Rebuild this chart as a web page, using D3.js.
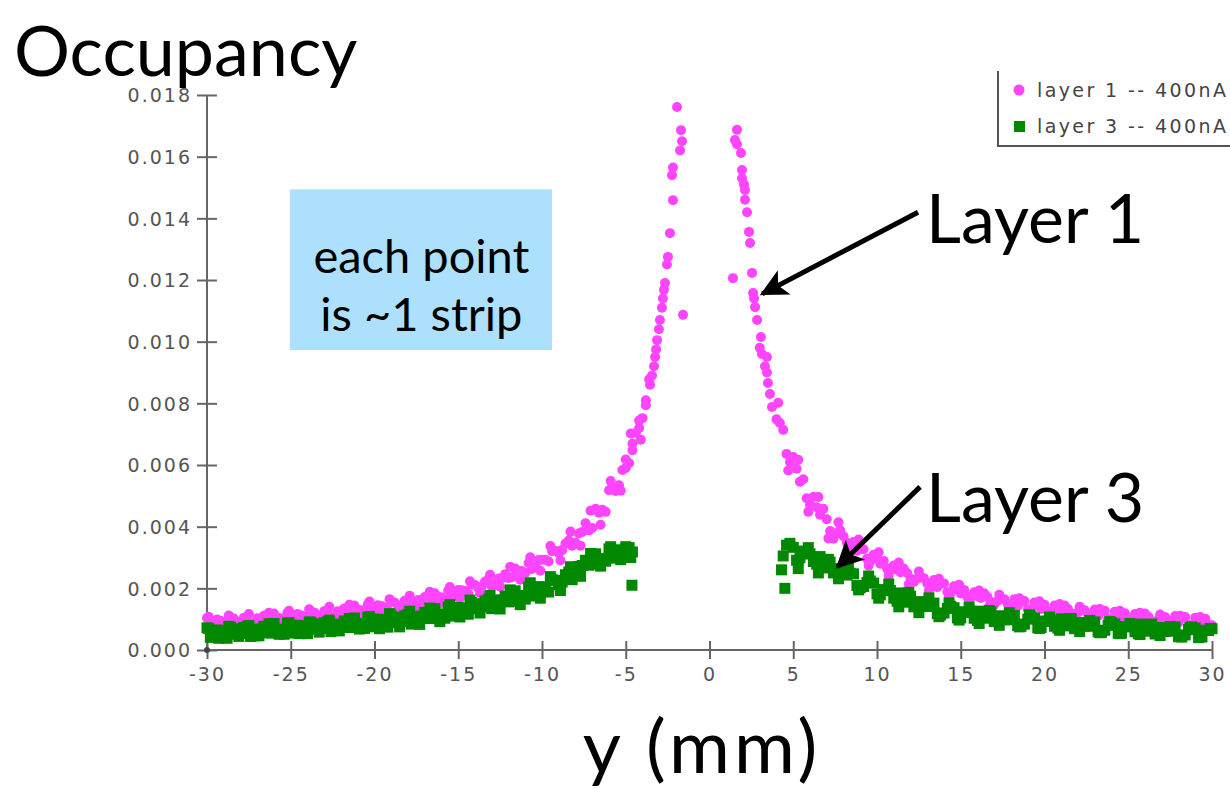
<!DOCTYPE html>
<html>
<head>
<meta charset="utf-8">
<script src="https://cdn.jsdelivr.net/npm/d3@7"></script>
<style>
    body { margin: 0; background: #fff; }
    svg { display: block; }
    .axis path, .axis line { stroke: #666; stroke-width: 2; }
    .axis text { font-family: "DejaVu Sans", Verdana, sans-serif; font-size: 19px; fill: #555; letter-spacing: 2px; }
    .big { font-family: "Gill Sans", Lato, sans-serif; fill: #000; }
    .legend text { font-family: "DejaVu Sans", Verdana, sans-serif; font-size: 19px; fill: #444; letter-spacing: 2.4px; }
</style>
</head>
<body>
<div id="chart"></div>
<script>

// tick values
const xTicks = [-30, -25, -20, -15, -10, -5, 0, 5, 10, 15, 20, 25, 30];
const yTicks = [0, 0.002, 0.004, 0.006, 0.008, 0.010, 0.012, 0.014, 0.016, 0.018];

// layer 1 (pink) -- [y (mm), occupancy], one row per strip
const layer1Left = [
    [-30.0,.00104],[-29.6,.00082],[-29.2,.00095],[-28.8,.00078],[-28.4,.00102],[-28.0,.00091],
    [-27.6,.00108],[-27.2,.00086],[-26.8,.00101],[-26.4,.00094],[-26.0,.00118],[-25.6,.00103],
    [-25.2,.00121],[-24.8,.00100],[-24.4,.00113],[-24.0,.00097],[-23.6,.00122],[-23.2,.00112],
    [-22.8,.00129],[-22.4,.00108],[-22.0,.00124],[-21.6,.00119],[-21.2,.00144],[-20.8,.00129],
    [-20.4,.00148],[-20.0,.00128],[-19.6,.00143],[-19.2,.00128],[-18.8,.00154],[-18.4,.00145],
    [-18.0,.00163],[-17.6,.00144],[-17.2,.00161],[-16.8,.00157],[-16.4,.00184],[-16.0,.00171],
    [-15.6,.00193],[-15.2,.00176],[-14.8,.00194],[-14.4,.00182],[-14.0,.00211],[-13.6,.00206],
    [-13.2,.00228],[-12.8,.00212],[-12.4,.00233],[-12.0,.00233],[-11.6,.00264],[-11.2,.00256],
    [-10.8,.00282],[-10.4,.00270],[-10.0,.00293],[-9.6,.00287],[-9.2,.00322],[-8.8,.00324],
    [-8.4,.00355],[-8.0,.00348],[-7.6,.00383],[-7.2,.00388],[-6.8,.00458],[-6.4,.00455],
    [-6.0,.00518],[-5.6,.00516],[-5.2,.00584],[-5.0,.00590],[-4.8,.00606],[-4.6,.00670],
    [-4.4,.00704],[-4.2,.00720],[-4.0,.00752],[-3.8,.00810],[-3.6,.00878],[-3.55,.00860],
    [-3.43,.00890],[-3.31,.00920],[-3.25,.00950],[-3.19,.00975],[-3.13,.01005],[-3.02,.01040],
    [-2.96,.01070],[-2.84,.01110],[-2.78,.01140],[-2.72,.01168],[-2.66,.01190],[-2.54,.01250],
    [-2.48,.01275],[-2.36,.01352],[-2.18,.01459],[-2.24,.01540],[-2.18,.01565],[-1.76,.01620],
    [-1.64,.01650],[-1.70,.01686],[-1.94,.01761],[-1.58,.01087]
];

const layer1LeftInner = [
    [-29.8,.00080],[-29.4,.00099],[-29.0,.00089],[-28.6,.00106],[-28.2,.00089],[-27.8,.00105],
    [-27.4,.00084],[-27.0,.00103],[-26.6,.00111],[-26.2,.00094],[-25.8,.00105],[-25.4,.00093],
    [-25.0,.00097],[-24.6,.00117],[-24.2,.00108],[-23.8,.00125],[-23.4,.00109],[-23.0,.00126],
    [-22.6,.00105],[-22.2,.00126],[-21.8,.00135],[-21.4,.00119],[-21.0,.00131],[-20.6,.00120],
    [-20.2,.00125],[-19.8,.00145],[-19.4,.00138],[-19.0,.00156],[-18.6,.00142],[-18.2,.00160],
    [-17.8,.00140],[-17.4,.00162],[-17.0,.00172],[-16.6,.00158],[-16.2,.00172],[-15.8,.00163],
    [-15.4,.00171],[-15.0,.00195],[-14.6,.00191],[-14.2,.00212],[-13.8,.00200],[-13.4,.00222],
    [-13.0,.00206],[-12.6,.00232],[-12.2,.00246],[-11.8,.00236],[-11.4,.00255],[-11.0,.00250],
    [-10.6,.00263],[-10.2,.00292],[-9.8,.00293],[-9.4,.00320],[-9.0,.00314],[-8.6,.00345],
    [-8.2,.00338],[-7.8,.00378],[-7.4,.00411],[-7.0,.00396],[-6.6,.00445],[-6.2,.00448],
    [-5.8,.00526],[-5.4,.00534],[-5.0,.00618],[-4.6,.00648],[-4.2,.00744],[-3.8,.00794]
];

const layer1LeftEdge = [
    [-29.9,.00108],[-29.3,.00075],[-28.7,.00112],[-28.1,.00079],[-27.5,.00117],[-26.9,.00083],
    [-26.3,.00121],[-25.7,.00087],[-25.1,.00127],[-24.5,.00093],[-23.9,.00132],[-23.3,.00099],
    [-22.7,.00140],[-22.1,.00104],[-21.5,.00147],[-20.9,.00113],[-20.3,.00157],[-19.7,.00120],
    [-19.1,.00165],[-18.5,.00128],[-17.9,.00176],[-17.3,.00139],[-16.7,.00189],[-16.1,.00151],
    [-15.5,.00204],[-14.9,.00168],[-14.3,.00223],[-13.7,.00185],[-13.1,.00244],[-12.5,.00205],
    [-11.9,.00270],[-11.3,.00228],[-10.7,.00301],[-10.1,.00257],[-9.5,.00337],[-8.9,.00290],
    [-8.3,.00384],[-7.7,.00338],[-7.1,.00452],[-6.5,.00406],[-5.9,.00548],[-5.3,.00517],
    [-4.7,.00702],[-4.1,.00682]
];

const layer1Right = [
    [1.64,.01687],[1.52,.01654],[1.64,.01640],[1.88,.01612],[1.94,.01557],[1.94,.01530],
    [2.06,.01510],[2.12,.01492],[2.12,.01460],[2.24,.01420],[2.36,.01356],[2.42,.01320],
    [2.54,.01223],[1.40,.01206],[2.60,.01158],[2.66,.01140],[2.72,.01112],[2.84,.01070],
    [3.07,.01015],[3.00,.00980],[3.13,.00960],[3.43,.00950],[3.31,.00920],[3.43,.00900],
    [3.49,.00866],[3.61,.00830],[3.73,.00788],
    [4.0,.00748],[4.4,.00714],[4.8,.00610],[5.2,.00588],[5.6,.00554],[6.0,.00470],
    [6.4,.00463],[6.8,.00458],[7.2,.00386],[7.6,.00379],[8.0,.00369],[8.4,.00330],
    [8.8,.00322],[9.2,.00327],[9.6,.00289],[10.0,.00295],[10.4,.00289],[10.8,.00258],
    [11.2,.00260],[11.6,.00264],[12.0,.00232],[12.4,.00231],[12.8,.00233],[13.2,.00203],
    [13.6,.00204],[14.0,.00216],[14.4,.00184],[14.8,.00196],[15.2,.00195],[15.6,.00169],
    [16.0,.00175],[16.4,.00184],[16.8,.00156],[17.2,.00159],[17.6,.00165],[18.0,.00138],
    [18.4,.00143],[18.8,.00159],[19.2,.00130],[19.6,.00145],[20.0,.00147],[20.4,.00124],
    [20.8,.00133],[21.2,.00144],[21.6,.00118],[22.0,.00122],[22.4,.00129],[22.8,.00104],
    [23.2,.00110],[23.6,.00127],[24.0,.00099],[24.4,.00115],[24.8,.00119],[25.2,.00097],
    [25.6,.00107],[26.0,.00118],[26.4,.00093],[26.8,.00099],[27.2,.00107],[27.6,.00083],
    [28.0,.00089],[28.4,.00107],[28.8,.00080],[29.2,.00097],[29.6,.00101],[30.0,.00080]
];

const layer1RightInner = [
    [4.2,.00736],[4.6,.00636],[5.0,.00626],[5.4,.00546],[5.8,.00492],[6.2,.00496],
    [6.6,.00439],[7.0,.00424],[7.4,.00361],[7.8,.00388],[8.2,.00348],[8.6,.00350],
    [9.0,.00328],[9.4,.00296],[9.8,.00309],[10.2,.00280],[10.6,.00264],[11.0,.00274],
    [11.4,.00252],[11.8,.00250],[12.2,.00221],[12.6,.00237],[13.0,.00216],[13.4,.00227],
    [13.8,.00214],[14.2,.00188],[14.6,.00207],[15.0,.00183],[15.4,.00172],[15.8,.00187],
    [16.2,.00169],[16.6,.00172],[17.0,.00147],[17.4,.00167],[17.8,.00150],[18.2,.00165],
    [18.6,.00156],[19.0,.00132],[19.4,.00154],[19.8,.00133],[20.2,.00126],[20.6,.00144],
    [21.0,.00128],[21.4,.00133],[21.8,.00110],[22.2,.00131],[22.6,.00115],[23.0,.00131],
    [23.4,.00123],[23.8,.00101],[24.2,.00124],[24.6,.00105],[25.0,.00098],[25.4,.00117],
    [25.8,.00102],[26.2,.00108],[26.6,.00086],[27.0,.00108],[27.4,.00094],[27.8,.00110],
    [28.2,.00103],[28.6,.00082],[29.0,.00105],[29.4,.00087],[29.8,.00081]
];

const layer1RightEdge = [
    [4.1,.00802],[4.7,.00582],[5.3,.00617],[5.9,.00448],[6.5,.00496],[7.1,.00362],
    [7.7,.00414],[8.3,.00312],[8.9,.00358],[9.5,.00273],[10.1,.00317],[10.7,.00241],
    [11.3,.00284],[11.9,.00214],[12.5,.00255],[13.1,.00192],[13.7,.00231],[14.3,.00173],
    [14.9,.00212],[15.5,.00156],[16.1,.00193],[16.7,.00141],[17.3,.00179],[17.9,.00130],
    [18.5,.00168],[19.1,.00121],[19.7,.00158],[20.3,.00113],[20.9,.00149],[21.5,.00105],
    [22.1,.00140],[22.7,.00098],[23.3,.00133],[23.9,.00092],[24.5,.00127],[25.1,.00087],
    [25.7,.00121],[26.3,.00083],[26.9,.00115],[27.5,.00077],[28.1,.00111],[28.7,.00074],
    [29.3,.00107],[29.9,.00072]
];

// layer 3 (green)
const layer3Left = [
    [-30.0,.00072],[-29.6,.00043],[-29.2,.00061],[-28.8,.00038],[-28.4,.00069],[-28.0,.00054],
    [-27.6,.00076],[-27.2,.00046],[-26.8,.00066],[-26.4,.00056],[-26.0,.00086],[-25.6,.00064],
    [-25.2,.00087],[-24.8,.00058],[-24.4,.00077],[-24.0,.00053],[-23.6,.00084],[-23.2,.00070],
    [-22.8,.00092],[-22.4,.00063],[-22.0,.00082],[-21.6,.00073],[-21.2,.00104],[-20.8,.00083],
    [-20.4,.00106],[-20.0,.00078],[-19.6,.00097],[-19.2,.00074],[-18.8,.00106],[-18.4,.00092],
    [-18.0,.00115],[-17.6,.00088],[-17.2,.00109],[-16.8,.00102],[-16.4,.00134],[-16.0,.00115],
    [-15.6,.00140],[-15.2,.00115],[-14.8,.00136],[-14.4,.00116],[-14.0,.00150],[-13.6,.00139],
    [-13.2,.00165],[-12.8,.00139],[-12.4,.00162],[-12.0,.00156],[-11.6,.00192],[-11.2,.00176],
    [-10.8,.00204],[-10.4,.00181],[-10.0,.00205],[-9.6,.00188],[-9.2,.00226],[-8.8,.00220],
    [-8.4,.00253],[-8.0,.00244],[-7.6,.00274],[-7.2,.00275],[-6.8,.00312],[-6.4,.00295],
    [-6.0,.00328],[-5.6,.00302],[-5.2,.00323],[-5.0,.00335],[-4.8,.00332],[-4.7,.00300],
    [-4.6,.00318],[-4.63,.00210]
];

const layer3LeftInner = [
    [-29.8,.00041],[-29.4,.00065],[-29.0,.00053],[-28.6,.00074],[-28.2,.00051],[-27.8,.00073],
    [-27.4,.00044],[-27.0,.00068],[-26.6,.00077],[-26.2,.00055],[-25.8,.00068],[-25.4,.00051],
    [-25.0,.00055],[-24.6,.00080],[-24.2,.00068],[-23.8,.00090],[-23.4,.00067],[-23.0,.00088],
    [-22.6,.00060],[-22.2,.00084],[-21.8,.00094],[-21.4,.00073],[-21.0,.00086],[-20.6,.00070],
    [-20.2,.00075],[-19.8,.00100],[-19.4,.00089],[-19.0,.00111],[-18.6,.00089],[-18.2,.00111],
    [-17.8,.00084],[-17.4,.00110],[-17.0,.00122],[-16.6,.00102],[-16.2,.00117],[-15.8,.00103],
    [-15.4,.00110],[-15.0,.00138],[-14.6,.00129],[-14.2,.00154],[-13.8,.00134],[-13.4,.00159],
    [-13.0,.00134],[-12.6,.00162],[-12.2,.00175],[-11.8,.00158],[-11.4,.00176],[-11.0,.00165],
    [-10.6,.00175],[-10.2,.00205],[-9.8,.00200],[-9.4,.00228],[-9.0,.00212],[-8.6,.00244],
    [-8.2,.00228],[-7.8,.00271],[-7.4,.00291],[-7.0,.00278],[-6.6,.00296],[-6.2,.00288],
    [-5.8,.00298],[-5.4,.00325],[-5.0,.00316]
];

const layer3LeftEdge = [
    [-29.9,.00070],[-29.3,.00038],[-28.7,.00077],[-28.1,.00044],[-27.5,.00079],[-26.9,.00046],
    [-26.3,.00085],[-25.7,.00051],[-25.1,.00088],[-24.5,.00053],[-23.9,.00091],[-23.3,.00058],
    [-22.7,.00097],[-22.1,.00062],[-21.5,.00102],[-20.9,.00068],[-20.3,.00108],[-19.7,.00069],
    [-19.1,.00118],[-18.5,.00075],[-17.9,.00126],[-17.3,.00083],[-16.7,.00136],[-16.1,.00092],
    [-15.5,.00147],[-14.9,.00107],[-14.3,.00162],[-13.7,.00120],[-13.1,.00177],[-12.5,.00133],
    [-11.9,.00195],[-11.3,.00147],[-10.7,.00218],[-10.1,.00168],[-9.5,.00238],[-8.9,.00193],
    [-8.3,.00270],[-7.7,.00239],[-7.1,.00313],[-6.5,.00272],[-5.9,.00335],[-5.3,.00293]
];

const layer3Right = [
    [4.3,.00260],[4.4,.00305],[4.5,.00200],[4.6,.00340],[4.8,.00346],[5.2,.00291],
    [5.6,.00321],[6.0,.00312],[6.4,.00278],[6.8,.00283],[7.2,.00285],[7.6,.00251],
    [8.0,.00248],[8.4,.00249],[8.8,.00209],[9.2,.00206],[9.6,.00224],[10.0,.00182],
    [10.4,.00196],[10.8,.00193],[11.2,.00158],[11.6,.00166],[12.0,.00174],[12.4,.00143],
    [12.8,.00143],[13.2,.00151],[13.6,.00118],[14.0,.00120],[14.4,.00142],[14.8,.00104],
    [15.2,.00124],[15.6,.00126],[16.0,.00096],[16.4,.00111],[16.8,.00124],[17.2,.00096],
    [17.6,.00098],[18.0,.00109],[18.4,.00079],[18.8,.00084],[19.2,.00108],[19.6,.00072],
    [20.0,.00094],[20.4,.00098],[20.8,.00071],[21.2,.00086],[21.6,.00101],[22.0,.00073],
    [22.4,.00077],[22.8,.00088],[23.2,.00059],[23.6,.00064],[24.0,.00089],[24.4,.00054],
    [24.8,.00076],[25.2,.00081],[25.6,.00053],[26.0,.00069],[26.4,.00084],[26.8,.00057],
    [27.2,.00060],[27.6,.00072],[28.0,.00043],[28.4,.00049],[28.8,.00075],[29.2,.00040],
    [29.6,.00064],[30.0,.00069]
];

const layer3RightInner = [
    [5.0,.00333],[5.4,.00299],[5.8,.00312],[6.2,.00287],[6.6,.00303],[7.0,.00266],
    [7.4,.00250],[7.8,.00264],[8.2,.00243],[8.6,.00247],[9.0,.00202],[9.4,.00219],
    [9.8,.00217],[10.2,.00179],[10.6,.00192],[11.0,.00168],[11.4,.00185],[11.8,.00155],
    [12.2,.00140],[12.6,.00157],[13.0,.00141],[13.4,.00152],[13.8,.00114],[14.2,.00135],
    [14.6,.00137],[15.0,.00104],[15.4,.00122],[15.8,.00103],[16.2,.00126],[16.6,.00103],
    [17.0,.00092],[17.4,.00111],[17.8,.00098],[18.2,.00112],[18.6,.00077],[19.0,.00100],
    [19.4,.00104],[19.8,.00073],[20.2,.00093],[20.6,.00077],[21.0,.00101],[21.4,.00078],
    [21.8,.00069],[22.2,.00089],[22.6,.00077],[23.0,.00091],[23.4,.00057],[23.8,.00080],
    [24.2,.00085],[24.6,.00055],[25.0,.00075],[25.4,.00059],[25.8,.00084],[26.2,.00061],
    [26.6,.00052],[27.0,.00073],[27.4,.00061],[27.8,.00075],[28.2,.00042],[28.6,.00066],
    [29.0,.00071],[29.4,.00042],[29.8,.00063]
];

const layer3RightEdge = [
    [5.3,.00264],[5.9,.00332],[6.5,.00250],[7.1,.00294],[7.7,.00231],[8.3,.00267],
    [8.9,.00195],[9.5,.00240],[10.1,.00168],[10.7,.00214],[11.3,.00140],[11.9,.00187],
    [12.5,.00121],[13.1,.00169],[13.7,.00108],[14.3,.00153],[14.9,.00097],[15.5,.00139],
    [16.1,.00086],[16.7,.00128],[17.3,.00080],[17.9,.00121],[18.5,.00075],[19.1,.00114],
    [19.7,.00070],[20.3,.00107],[20.9,.00064],[21.5,.00102],[22.1,.00060],[22.7,.00096],
    [23.3,.00056],[23.9,.00092],[24.5,.00053],[25.1,.00086],[25.7,.00050],[26.3,.00081],
    [26.9,.00047],[27.5,.00076],[28.1,.00045],[28.7,.00073],[29.3,.00044],[29.9,.00070]
];

const legendLabels = ["layer 1 -- 400nA", "layer 3 -- 400nA"];
const noteLines = ["each point", "is ~1 strip"];

// arrows: [label, tail x, tail y, tip x, tip y] in data units
const arrows = [
    ["Layer 1", 12.45, .0142, 3.15, .01155],
    ["Layer 3", 12.57, .00529, 7.65, .0027]
];

const width = 1230, height = 789;
const colors = { pink: "#ff44ff", green: "#008800" };

const svg = d3.select("#chart").append("svg")
    .attr("width", width)
    .attr("height", height);

const xScale = d3.scaleLinear().domain([-30, 30]).range([207, 1212]);
const yScale = d3.scaleLinear().domain([0, 0.018]).range([650, 95]);

const xAxis = d3.axisBottom(xScale)
    .tickValues(xTicks)
    .tickSize(0)
    .tickPadding(18)
    .tickFormat(d => String(d));

const yAxis = d3.axisLeft(yScale)
    .tickValues(yTicks)
    .tickSize(0)
    .tickPadding(15)
    .tickFormat(d3.format(".3f"));

let gx = svg.append("g")
    .attr("class", "axis x-axis")
    .attr("transform", `translate(0,${yScale(0)})`)
    .call(xAxis);
gx.select(".domain").attr("d", `M${xScale(-30)},0H${xScale(30)}`);
gx.selectAll(".tick line").attr("y1", -9).attr("y2", 9);

let gy = svg.append("g")
    .attr("class", "axis y-axis")
    .attr("transform", `translate(${xScale(-30)},0)`)
    .call(yAxis);
gy.select(".domain").attr("d", `M0,${yScale(0)}V${yScale(0.018)}`);
gy.selectAll(".tick line").attr("x1", -10).attr("x2", 10);
gy.selectAll(".tick text").attr("dy", "0.36em");

svg.append("circle")
    .attr("cx", xScale(-30))
    .attr("cy", yScale(0))
    .attr("r", 3)
    .attr("fill", "#444");

// layer 1 dots
let plot = svg.append("g").attr("class", "points");

plot.selectAll(".l1")
    .data(layer1Left.concat(layer1LeftInner, layer1LeftEdge, layer1Right, layer1RightInner, layer1RightEdge))
    .enter().append("circle")
    .attr("class", "l1")
    .attr("cx", d => xScale(d[0]))
    .attr("cy", d => yScale(d[1]))
    .attr("r", 5)
    .attr("fill", colors.pink);

// layer 3 squares
plot.selectAll(".l3")
    .data(layer3Left.concat(layer3LeftInner, layer3LeftEdge, layer3Right, layer3RightInner, layer3RightEdge))
    .enter().append("rect")
    .attr("class", "l3")
    .attr("x", d => xScale(d[0]) - 5.5)
    .attr("y", d => yScale(d[1]) - 5.5)
    .attr("width", 11)
    .attr("height", 11)
    .attr("fill", colors.green);

// legend
let legend = svg.append("g").attr("class", "legend");
legend.append("path")
    .attr("d", "M998,71V146H1230")
    .attr("fill", "none")
    .attr("stroke", "#555")
    .attr("stroke-width", 2);

legend.selectAll("text")
    .data(legendLabels)
    .enter().append("text")
    .attr("x", 1037)
    .attr("y", (d, i) => 97 + i * 36)
    .text(d => d);

legend.append("circle")
    .attr("cx", 1019).attr("cy", 90).attr("r", 5.5)
    .attr("fill", colors.pink);
legend.append("rect")
    .attr("x", 1014).attr("y", 121).attr("width", 11).attr("height", 11)
    .attr("fill", colors.green);

// titles
svg.append("text")
    .attr("class", "big")
    .attr("x", 14)
    .attr("y", 76)
    .style("font-size", "70px")
    .text("Occupancy");

svg.append("text")
    .attr("class", "big")
    .attr("x", 702)
    .attr("y", 773)
    .attr("text-anchor", "middle")
    .style("font-size", "74px")
    .style("letter-spacing", "4px")
    .text("y (mm)");

// note box
svg.append("rect")
    .attr("x", xScale(-25.05))
    .attr("y", yScale(0.01494))
    .attr("width", xScale(-9.4) - xScale(-25.05))
    .attr("height", yScale(0.00973) - yScale(0.01494))
    .attr("fill", "#ade0fd");

svg.selectAll(".note")
    .data(noteLines)
    .enter().append("text")
    .attr("class", "big note")
    .attr("x", xScale(-17.2))
    .attr("y", (d, i) => 273 + i * 58)
    .attr("text-anchor", "middle")
    .style("font-size", "47px")
    .text(d => d);

// arrows
svg.append("defs").append("marker")
    .attr("id", "head")
    .attr("viewBox", "0 0 10 10")
    .attr("refX", 9)
    .attr("refY", 5)
    .attr("markerWidth", 6)
    .attr("markerHeight", 5.5)
    .attr("markerUnits", "strokeWidth")
    .attr("orient", "auto")
    .append("path")
    .attr("d", "M0,0L10,5L0,10L2.5,5Z")
    .attr("fill", "#000");

svg.selectAll(".arrow")
    .data(arrows)
    .enter().append("line")
    .attr("class", "arrow")
    .attr("x1", d => xScale(d[1]))
    .attr("y1", d => yScale(d[2]))
    .attr("x2", d => xScale(d[3]))
    .attr("y2", d => yScale(d[4]))
    .attr("stroke", "#000")
    .attr("stroke-width", 5)
    .attr("marker-end", "url(#head)");

svg.selectAll(".arrow-label")
    .data(arrows)
    .enter().append("text")
    .attr("class", "big arrow-label")
    .attr("x", 926)
    .attr("y", (d, i) => i ? 522 : 243)
    .style("font-size", "68px")
    .text(d => d[0]);

</script>
</body>
</html>
